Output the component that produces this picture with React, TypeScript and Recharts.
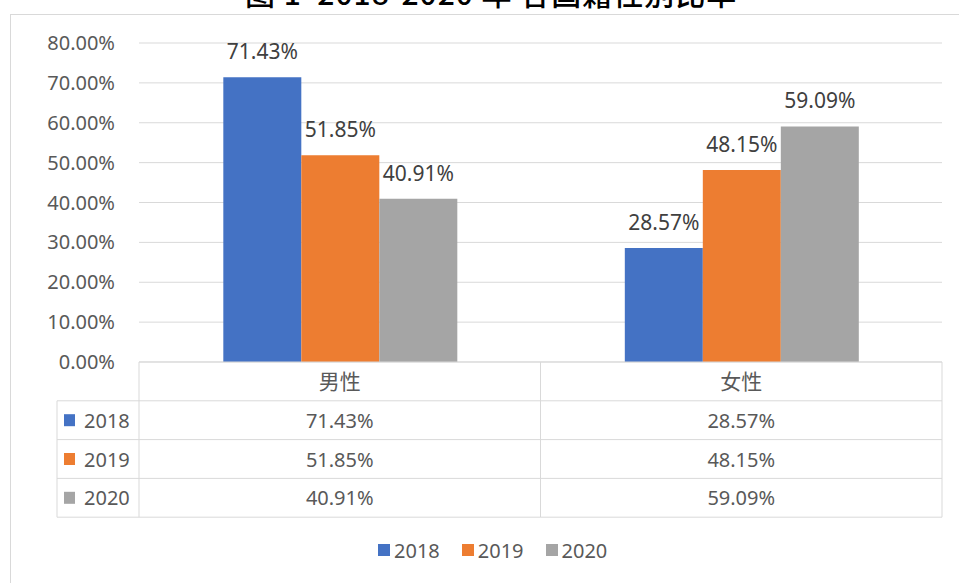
import { BarChart, Bar, XAxis, YAxis, CartesianGrid, LabelList, Legend } from "recharts";

const categories = ["男性", "女性"];
const seriesNames = ["2018", "2019", "2020"];
const values2018 = [71.43, 28.57];
const values2019 = [51.85, 48.15];
const values2020 = [40.91, 59.09];
const yTicks = [0, 10, 20, 30, 40, 50, 60, 70, 80];

const COLORS = ["#4472C4", "#ED7D31", "#A5A5A5"];
const FONT = "'Noto Sans', 'Noto Sans CJK SC', sans-serif";
const LINE = "#d9d9d9";
const TEXT = "#595959";

const seriesValues = [values2018, values2019, values2020];
const data = categories.map((name, i) => {
  const row: Record<string, string | number> = { name };
  seriesNames.forEach((s, k) => (row[s] = seriesValues[k][i]));
  return row;
});

const pct = (v: number) => `${Number(v).toFixed(2)}%`;

const ROW_H = 38.8;
const TABLE_LEFT = 57;

function TableTick(props: any) {
  const { x, y, payload, index, width } = props;
  const colW = width ? width / categories.length : 401.5;
  const left = x - colW / 2;
  const right = x + colW / 2;
  const bottom = y + ROW_H * 4;
  const i = categories.indexOf(payload.value);
  return (
    <g>
      <text x={x} y={y + ROW_H / 2} textAnchor="middle" dominantBaseline="central" fontSize={21} fill={TEXT} fontFamily={FONT}>
        {payload.value}
      </text>
      <line x1={right} x2={right} y1={y} y2={bottom} stroke={LINE} />
      {index === 0 && <line x1={left} x2={left} y1={y} y2={bottom} stroke={LINE} />}
      {index === 0 && <line x1={TABLE_LEFT} x2={TABLE_LEFT} y1={y + ROW_H} y2={bottom} stroke={LINE} />}
      {seriesNames.map((s, r) => {
        const ry = y + ROW_H * (r + 1);
        return (
          <g key={s}>
            <line x1={index === 0 ? TABLE_LEFT : left} x2={right} y1={ry} y2={ry} stroke={LINE} />
            <text x={x} y={ry + ROW_H / 2} textAnchor="middle" dominantBaseline="central" fontSize={20} fill={TEXT} fontFamily={FONT}>
              {pct(seriesValues[r][i])}
            </text>
            {index === 0 && (
              <g>
                <rect x={64} y={ry + ROW_H / 2 - 6} width={11} height={12} fill={COLORS[r]} />
                <text x={84} y={ry + ROW_H / 2} dominantBaseline="central" fontSize={20} fill={TEXT} fontFamily={FONT}>
                  {s}
                </text>
              </g>
            )}
          </g>
        );
      })}
      <line x1={index === 0 ? TABLE_LEFT : left} x2={right} y1={bottom} y2={bottom} stroke={LINE} />
    </g>
  );
}

function LegendContent() {
  return (
    <div style={{ height: 66, display: "flex", alignItems: "center", paddingLeft: 378, fontFamily: FONT, fontSize: 20, color: TEXT }}>
      {seriesNames.map((s, k) => (
        <div key={s} style={{ display: "flex", alignItems: "center", marginRight: 22 }}>
          <span style={{ display: "inline-block", width: 12, height: 12, background: COLORS[k], marginRight: 4 }} />
          <span>{s}</span>
        </div>
      ))}
    </div>
  );
}

export default function App() {
  return (
    <div style={{ position: "absolute", left: 0, top: 0, width: 959, height: 583, overflow: "hidden", background: "#fff" }}>
      <div style={{ position: "absolute", left: 0, top: 0, width: 959, height: 13, overflow: "hidden" }}>
        <div style={{ position: "absolute", left: 245, top: -23, fontSize: 30, lineHeight: "30px", fontWeight: 500, letterSpacing: 1, whiteSpace: "pre", fontFamily: "'Noto Sans CJK SC', sans-serif", color: "#000" }}>
          图 1  2018-2020 年 各国籍性别比率
        </div>
      </div>
      <div style={{ position: "absolute", left: 10, top: 14, width: 1000, height: 1000, border: `1px solid ${LINE}` }} />
      <div style={{ position: "absolute", left: 0, top: 0 }}>
        <BarChart width={959} height={583} data={data} margin={{ top: 43, right: 17, left: 0, bottom: 0 }} barCategoryGap="21%" barGap={0}>
          <CartesianGrid vertical={false} stroke={LINE} />
          <XAxis dataKey="name" height={155} tickSize={0} tickMargin={0} axisLine={{ stroke: LINE }} tickLine={false} tick={<TableTick />} interval={0} />
          <YAxis
            width={139}
            domain={[0, 80]}
            ticks={yTicks}
            tickFormatter={pct}
            axisLine={false}
            tickLine={false}
            tickMargin={18}
            tick={{ fill: TEXT, fontSize: 20, fontFamily: FONT }}
          />
          <Legend verticalAlign="bottom" wrapperStyle={{ left: 0, width: 959 }} content={<LegendContent />} />
          {seriesNames.map((s, k) => (
            <Bar key={s} dataKey={s} fill={COLORS[k]} isAnimationActive={false}>
              <LabelList dataKey={s} position="top" offset={18} formatter={(v: any) => pct(v)} fill="#404040" fontSize={21} fontFamily={FONT} />
            </Bar>
          ))}
        </BarChart>
      </div>
    </div>
  );
}
